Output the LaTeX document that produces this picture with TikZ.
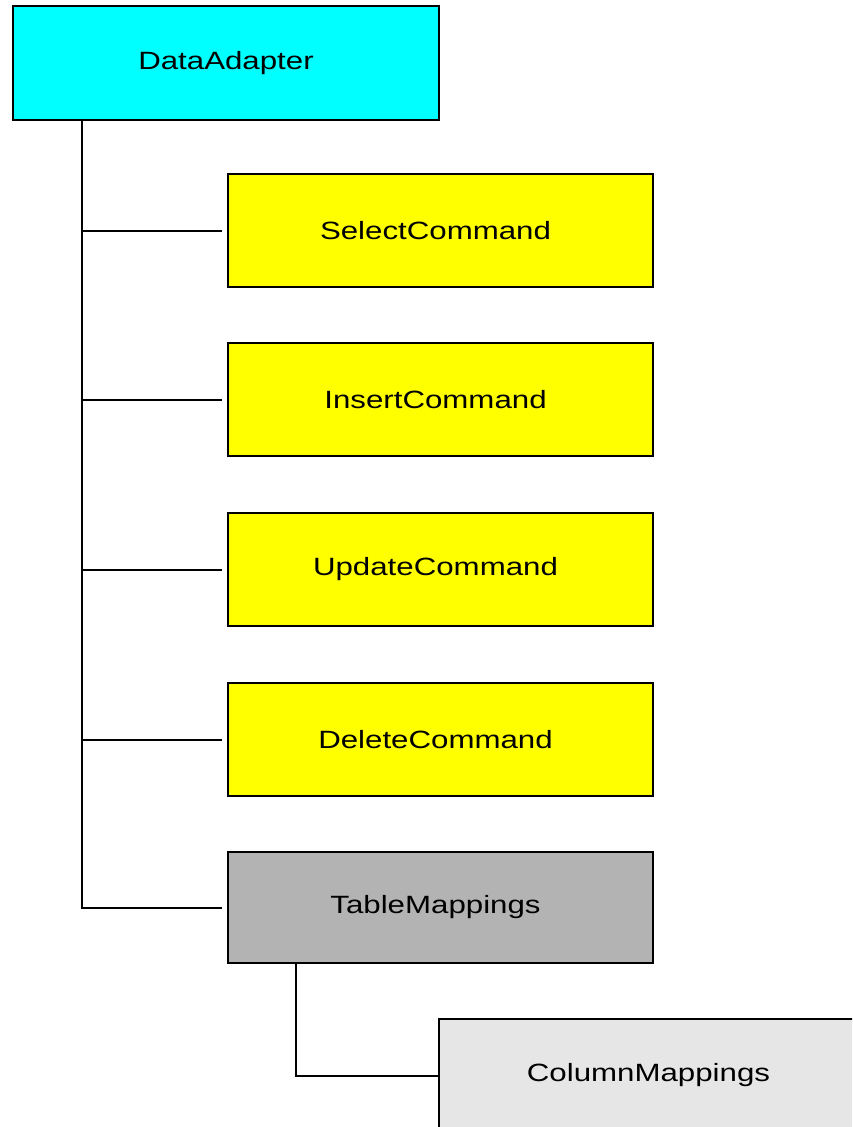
\documentclass[tikz,border=0pt]{standalone}
\usepackage{fontspec}
\setmainfont{Liberation Sans}
\definecolor{dacyan}{HTML}{00FFFF}
\definecolor{cmdyellow}{HTML}{FFFF00}
\definecolor{tmgray}{HTML}{B3B3B3}
\definecolor{cmgray}{HTML}{E6E6E6}
\newcommand{\boxlbl}[2][10pt]{\scalebox{1.25}[1]{#2}\hspace*{#1}}
\begin{document}
\begin{tikzpicture}[x=1pt,y=1pt,
  box/.style={draw=black, line width=1.9pt, minimum height=113pt, minimum width=425pt, inner sep=0pt, font=\fontsize{25}{28}\selectfont},
  conn/.style={draw=black, line width=2pt, shorten >=5pt}]
\clip (0,0) rectangle (852,-1127);
\fill[white] (0,0) rectangle (852,-1127);
\node[box, fill=dacyan, minimum width=426pt, minimum height=114pt] (da) at (226,-63) {\boxlbl[0pt]{DataAdapter}};
\node[box, fill=cmdyellow] (sel) at (440.5,-230.5) {\boxlbl{SelectCommand}};
\node[box, fill=cmdyellow] (ins) at (440.5,-399.5) {\boxlbl{InsertCommand}};
\node[box, fill=cmdyellow] (upd) at (440.5,-569.5) {\boxlbl{UpdateCommand}};
\node[box, fill=cmdyellow] (del) at (440.5,-739.5) {\boxlbl{DeleteCommand}};
\node[box, fill=tmgray, minimum height=111pt] (tm) at (440.5,-907.5) {\boxlbl{TableMappings}};
\node[box, fill=cmgray, minimum width=426pt] (cm) at (652,-1075.5) {\boxlbl[7pt]{ColumnMappings}};
\coordinate (trunk) at ([xshift=70pt]da.south west);
\coordinate (tmtrunk) at ([xshift=69pt]tm.south west);
\draw[conn] (trunk) |- (sel.west);
\draw[conn] (trunk) |- (ins.west);
\draw[conn] (trunk) |- (upd.west);
\draw[conn] (trunk) |- (del.west);
\draw[conn] (trunk) |- (tm.west);
\draw[conn, shorten >=0pt] (tmtrunk) |- (cm.west);
\end{tikzpicture}
\end{document}
